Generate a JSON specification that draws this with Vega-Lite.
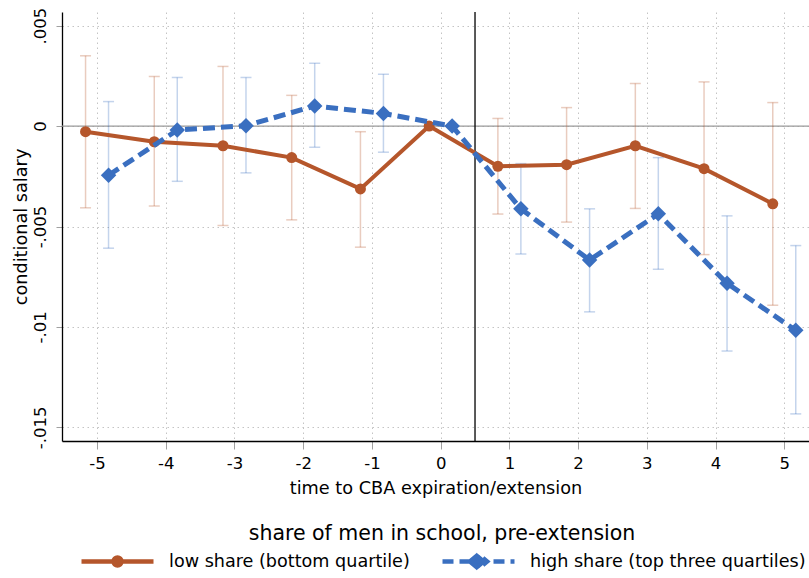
{
  "$schema": "https://vega.github.io/schema/vega-lite/v6.json",
  "width": 747,
  "height": 429,
  "autosize": {"type": "none"},
  "padding": {"left": 62, "top": 12, "right": 0, "bottom": 137},
  "background": "white",
  "config": {
    "font": "DejaVu Sans",
    "view": {"stroke": null},
    "axis": {
      "grid": true,
      "gridColor": "#c4c4c4",
      "gridDash": [1.5, 3.5],
      "gridWidth": 1,
      "domainColor": "#000000",
      "domainWidth": 1.3,
      "tickColor": "#a0a0a0",
      "tickWidth": 1,
      "labelColor": "#000000",
      "labelFontSize": 16.5,
      "titleColor": "#000000",
      "titleFontSize": 17.7,
      "titleFontWeight": "normal"
    }
  },
  "data": {
    "values": [
      {"t": -5, "group": "low share (bottom quartile)", "b": -0.00028, "lo": -0.00407, "hi": 0.0035},
      {"t": -4, "group": "low share (bottom quartile)", "b": -0.00078, "lo": -0.00398, "hi": 0.00247},
      {"t": -3, "group": "low share (bottom quartile)", "b": -0.00098, "lo": -0.00495, "hi": 0.00297},
      {"t": -2, "group": "low share (bottom quartile)", "b": -0.00157, "lo": -0.00467, "hi": 0.00153},
      {"t": -1, "group": "low share (bottom quartile)", "b": -0.00313, "lo": -0.00603, "hi": -0.00028},
      {"t": 0, "group": "low share (bottom quartile)", "b": 0, "lo": null, "hi": null},
      {"t": 1, "group": "low share (bottom quartile)", "b": -0.002, "lo": -0.00438, "hi": 0.00038},
      {"t": 2, "group": "low share (bottom quartile)", "b": -0.00192, "lo": -0.00478, "hi": 0.00092},
      {"t": 3, "group": "low share (bottom quartile)", "b": -0.00098, "lo": -0.0041, "hi": 0.00212},
      {"t": 4, "group": "low share (bottom quartile)", "b": -0.00212, "lo": -0.0064, "hi": 0.0022},
      {"t": 5, "group": "low share (bottom quartile)", "b": -0.00387, "lo": -0.00892, "hi": 0.00117},
      {"t": -5, "group": "high share (top three quartiles)", "b": -0.00245, "lo": -0.00608, "hi": 0.00122},
      {"t": -4, "group": "high share (top three quartiles)", "b": -0.0002, "lo": -0.00275, "hi": 0.00242},
      {"t": -3, "group": "high share (top three quartiles)", "b": 0.00002, "lo": -0.00233, "hi": 0.00242},
      {"t": -2, "group": "high share (top three quartiles)", "b": 0.001, "lo": -0.00105, "hi": 0.00313},
      {"t": -1, "group": "high share (top three quartiles)", "b": 0.00063, "lo": -0.0013, "hi": 0.00258},
      {"t": 0, "group": "high share (top three quartiles)", "b": 0, "lo": null, "hi": null},
      {"t": 1, "group": "high share (top three quartiles)", "b": -0.00412, "lo": -0.00637, "hi": -0.00187},
      {"t": 2, "group": "high share (top three quartiles)", "b": -0.00667, "lo": -0.00925, "hi": -0.00412},
      {"t": 3, "group": "high share (top three quartiles)", "b": -0.00437, "lo": -0.00713, "hi": -0.00157},
      {"t": 4, "group": "high share (top three quartiles)", "b": -0.00783, "lo": -0.0112, "hi": -0.00447},
      {"t": 5, "group": "high share (top three quartiles)", "b": -0.01017, "lo": -0.01433, "hi": -0.00595}
    ]
  },
  "layer": [
    {
      "data": {"values": [{}]},
      "mark": {"type": "rule", "color": "#9a9a9a", "strokeWidth": 1.3},
      "encoding": {
        "y": {
          "datum": 0,
          "type": "quantitative",
          "title": "conditional salary",
          "scale": {"domain": [-0.01568, 0.00568], "nice": false, "zero": false},
          "axis": {
            "values": [-0.015, -0.01, -0.005, 0, 0.005],
            "labelExpr": "replace(toString(datum.value), '0.', '.')",
            "labelAngle": -90,
            "labelAlign": "center",
            "labelBaseline": "alphabetic",
            "labelPadding": 11,
            "tickSize": 6,
            "titleAngle": -90,
            "titleX": -36,
            "titleY": 214.5,
            "titleAlign": "center",
            "titleBaseline": "alphabetic"
          }
        }
      }
    },
    {
      "data": {"values": [{}]},
      "mark": {"type": "rule", "color": "#000000", "strokeWidth": 1.3},
      "encoding": {
        "x": {
          "datum": 0.5,
          "type": "quantitative",
          "title": "time to CBA expiration/extension",
          "scale": {"domain": [-5.51, 5.36], "nice": false, "zero": false},
          "axis": {
            "values": [-5, -4, -3, -2, -1, 0, 1, 2, 3, 4, 5],
            "labelExpr": "toString(datum.value)",
            "tickSize": 8,
            "labelPadding": 6,
            "titleY": 52,
            "titleBaseline": "alphabetic"
          }
        }
      }
    },
    {
      "transform": [{"filter": "datum.group === 'low share (bottom quartile)' && isValid(datum.lo)"}],
      "mark": {"type": "rule", "strokeWidth": 1.5, "opacity": 0.3, "xOffset": -11.5},
      "encoding": {
        "x": {"field": "t", "type": "quantitative", "title": "time to CBA expiration/extension"},
        "y": {"field": "lo", "type": "quantitative", "title": "conditional salary"},
        "y2": {"field": "hi"},
        "color": {"field": "group", "type": "nominal"}
      }
    },
    {
      "transform": [{"filter": "datum.group === 'low share (bottom quartile)' && isValid(datum.lo)"}],
      "mark": {"type": "tick", "orient": "horizontal", "size": 11, "thickness": 1.5, "opacity": 0.3, "xOffset": -11.5},
      "encoding": {
        "x": {"field": "t", "type": "quantitative", "title": "time to CBA expiration/extension"},
        "y": {"field": "lo", "type": "quantitative", "title": "conditional salary"},
        "color": {"field": "group", "type": "nominal"}
      }
    },
    {
      "transform": [{"filter": "datum.group === 'low share (bottom quartile)' && isValid(datum.hi)"}],
      "mark": {"type": "tick", "orient": "horizontal", "size": 11, "thickness": 1.5, "opacity": 0.3, "xOffset": -11.5},
      "encoding": {
        "x": {"field": "t", "type": "quantitative", "title": "time to CBA expiration/extension"},
        "y": {"field": "hi", "type": "quantitative", "title": "conditional salary"},
        "color": {"field": "group", "type": "nominal"}
      }
    },
    {
      "transform": [{"filter": "datum.group === 'high share (top three quartiles)' && isValid(datum.lo)"}],
      "mark": {"type": "rule", "strokeWidth": 1.5, "opacity": 0.3, "xOffset": 11.5},
      "encoding": {
        "x": {"field": "t", "type": "quantitative", "title": "time to CBA expiration/extension"},
        "y": {"field": "lo", "type": "quantitative", "title": "conditional salary"},
        "y2": {"field": "hi"},
        "color": {"field": "group", "type": "nominal"}
      }
    },
    {
      "transform": [{"filter": "datum.group === 'high share (top three quartiles)' && isValid(datum.lo)"}],
      "mark": {"type": "tick", "orient": "horizontal", "size": 11, "thickness": 1.5, "opacity": 0.3, "xOffset": 11.5},
      "encoding": {
        "x": {"field": "t", "type": "quantitative", "title": "time to CBA expiration/extension"},
        "y": {"field": "lo", "type": "quantitative", "title": "conditional salary"},
        "color": {"field": "group", "type": "nominal"}
      }
    },
    {
      "transform": [{"filter": "datum.group === 'high share (top three quartiles)' && isValid(datum.hi)"}],
      "mark": {"type": "tick", "orient": "horizontal", "size": 11, "thickness": 1.5, "opacity": 0.3, "xOffset": 11.5},
      "encoding": {
        "x": {"field": "t", "type": "quantitative", "title": "time to CBA expiration/extension"},
        "y": {"field": "hi", "type": "quantitative", "title": "conditional salary"},
        "color": {"field": "group", "type": "nominal"}
      }
    },
    {
      "transform": [{"filter": "datum.group === 'low share (bottom quartile)'"}],
      "mark": {"type": "line", "strokeWidth": 4, "xOffset": -11.5},
      "encoding": {
        "x": {"field": "t", "type": "quantitative", "title": "time to CBA expiration/extension"},
        "y": {"field": "b", "type": "quantitative", "title": "conditional salary"},
        "color": {
          "field": "group",
          "type": "nominal",
          "scale": {
            "domain": ["low share (bottom quartile)", "high share (top three quartiles)"],
            "range": ["#b5562b", "#3a6fc0"]
          },
          "legend": {
            "title": "share of men in school, pre-extension",
            "orient": "none",
            "direction": "horizontal",
            "legendX": 17,
            "legendY": 512,
            "titleAnchor": "middle",
            "titleFontSize": 20.5,
            "titleFontWeight": "normal",
            "titleColor": "#000000",
            "titleLimit": 800,
            "titlePadding": 7,
            "labelFontSize": 17.6,
            "labelColor": "#000000",
            "labelOffset": 13,
            "labelLimit": 400,
            "columnPadding": 30,
            "symbolSize": 5184,
            "clipHeight": 20,
            "encode": {
              "symbols": {
                "update": {
                  "shape": {"signal": "datum.value === 'low share (bottom quartile)' ? 'M-1,0H1M-0.11,0A0.11,0.11 0 1,1 0.11,0A0.11,0.11 0 1,1 -0.11,0Z' : 'M-1,0H1M-0.24,0L0,-0.2L0.24,0L0,0.2Z'"},
                  "fill": {"scale": "color", "field": "value"},
                  "stroke": {"scale": "color", "field": "value"},
                  "strokeWidth": {"value": 4.5},
                  "strokeDash": {"signal": "datum.value === 'low share (bottom quartile)' ? [] : [11, 6]"},
                  "opacity": {"value": 1},
                  "fillOpacity": {"value": 1},
                  "strokeOpacity": {"value": 1}
                }
              }
            }
          }
        }
      }
    },
    {
      "transform": [{"filter": "datum.group === 'low share (bottom quartile)'"}],
      "mark": {"type": "point", "shape": "circle", "filled": true, "size": 121, "opacity": 1, "xOffset": -11.5},
      "encoding": {
        "x": {"field": "t", "type": "quantitative", "title": "time to CBA expiration/extension"},
        "y": {"field": "b", "type": "quantitative", "title": "conditional salary"},
        "color": {"field": "group", "type": "nominal"}
      }
    },
    {
      "transform": [{"filter": "datum.group === 'high share (top three quartiles)'"}],
      "mark": {"type": "line", "strokeWidth": 5, "strokeDash": [12, 6], "xOffset": 11.5},
      "encoding": {
        "x": {"field": "t", "type": "quantitative", "title": "time to CBA expiration/extension"},
        "y": {"field": "b", "type": "quantitative", "title": "conditional salary"},
        "color": {"field": "group", "type": "nominal"}
      }
    },
    {
      "transform": [{"filter": "datum.group === 'high share (top three quartiles)'"}],
      "mark": {"type": "point", "shape": "diamond", "filled": true, "size": 240, "opacity": 1, "xOffset": 11.5},
      "encoding": {
        "x": {"field": "t", "type": "quantitative", "title": "time to CBA expiration/extension"},
        "y": {"field": "b", "type": "quantitative", "title": "conditional salary"},
        "color": {"field": "group", "type": "nominal"}
      }
    }
  ]
}
